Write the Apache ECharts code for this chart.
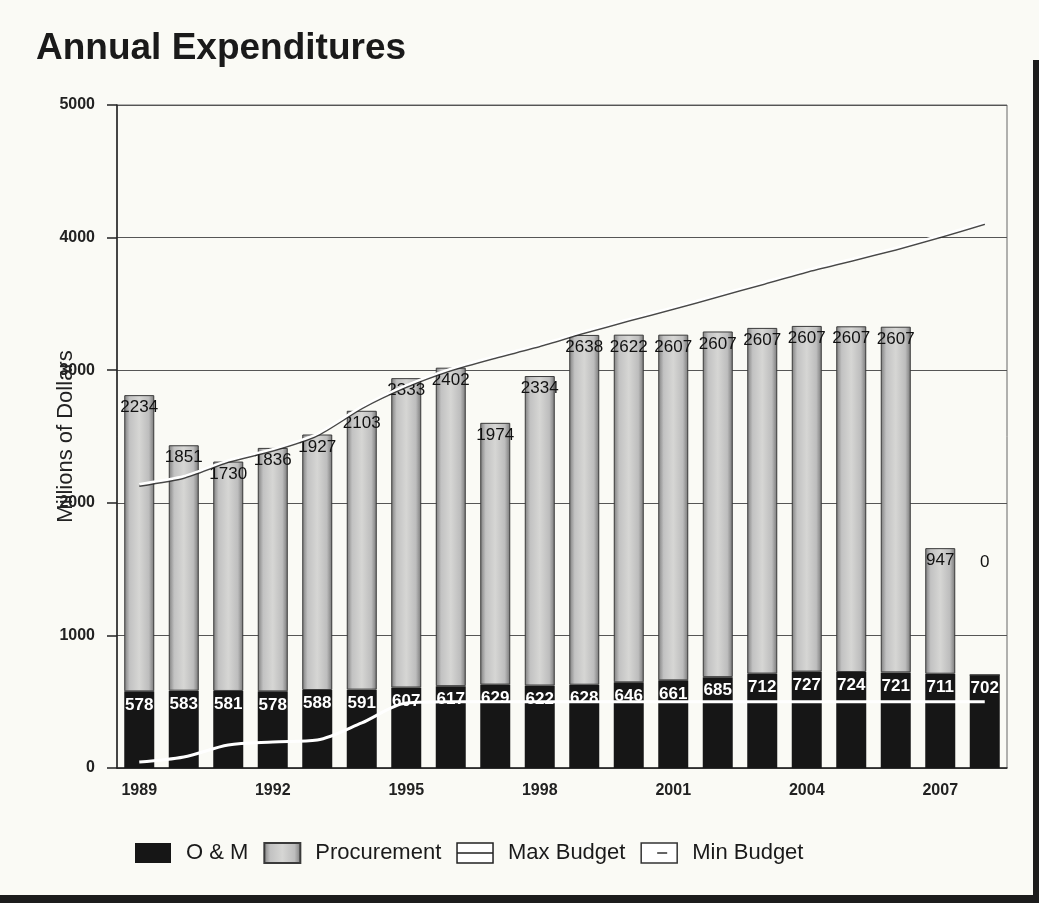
<!DOCTYPE html>
<html>
<head>
<meta charset="utf-8">
<script src="https://cdn.jsdelivr.net/npm/echarts@6/dist/echarts.min.js"></script>
<style>
html,body{margin:0;padding:0;background:#fafaf5;}
#wrap{position:relative;width:1039px;height:903px;overflow:hidden;}
#chart{position:absolute;left:0;top:0;width:1039px;height:903px;}
#rb{position:absolute;right:0;top:60px;width:6px;bottom:0;background:#1c1c1c;}
#bb{position:absolute;left:0;right:0;bottom:0;height:8px;background:#1c1c1c;}
</style>
</head>
<body>
<div id="wrap"><div id="chart"></div><div id="rb"></div><div id="bb"></div></div>
<script>
var years = ['1989','1990','1991','1992','1993','1994','1995','1996','1997','1998','1999','2000','2001','2002','2003','2004','2005','2006','2007','2008'];
var omValues = [578,583,581,578,588,591,607,617,629,622,628,646,661,685,712,727,724,721,711,702];
var procurementValues = [2234,1851,1730,1836,1927,2103,2333,2402,1974,2334,2638,2622,2607,2607,2607,2607,2607,2607,947,0];
var maxBudget = [2140,2200,2320,2405,2520,2725,2885,3010,3105,3193,3293,3385,3474,3567,3660,3754,3837,3922,4016,4115];
var minBudget = [45,83,173,196,211,340,490,500,500,500,500,500,500,500,500,500,500,500,500,500];
var yTicks = [0,1000,2000,3000,4000,5000];

var FONT = 'Liberation Sans, Arial, Helvetica, sans-serif';
var chart = echarts.init(document.getElementById('chart'), null, {renderer:'canvas'});

var procData = procurementValues.map(function(v){
  if (v === 0) {
    return {value: v, label: {position: 'top', offset: [0, -100]}};
  }
  return v;
});

var procFill = new echarts.graphic.LinearGradient(0,0,1,0,[
  {offset:0, color:'#7d7d7d'},
  {offset:0.18, color:'#c2c2c2'},
  {offset:0.5, color:'#d6d6d4'},
  {offset:0.82, color:'#bdbdbd'},
  {offset:1, color:'#777'}
]);

chart.setOption({
  backgroundColor: '#fafaf5',
  animation: false,
  textStyle: {fontFamily: FONT},
  title: {
    text: 'Annual Expenditures',
    left: 31, top: 25,
    textStyle: {fontSize: 37, fontWeight: 'bold', color: '#1a1a1a', fontFamily: FONT}
  },
  legend: {
    left: 130, top: 837,
    itemWidth: 36, itemHeight: 20, itemGap: 15,
    textStyle: {fontSize: 22, color: '#1a1a1a', padding: [0,0,0,10], fontFamily: FONT},
    data: [
      {name: 'O & M', icon: 'rect'},
      {name: 'Procurement', icon: 'rect'},
      {name: 'Max Budget', icon: 'path://M0 0H36V20H0ZM0 10H36', itemStyle: {color:'#fff', borderColor:'#222', borderWidth:1.5}},
      {name: 'Min Budget', icon: 'path://M0 0H36V20H0ZM16 10H26', itemStyle: {color:'#fff', borderColor:'#333', borderWidth:1.5}}
    ]
  },
  grid: {
    left: 117, right: 32, top: 105, bottom: 135,
    show: true, borderColor: '#666', borderWidth: 1, backgroundColor: 'transparent'
  },
  xAxis: {
    type: 'category',
    data: years,
    axisLine: {lineStyle: {color: '#222', width: 1.5}},
    axisTick: {show: false},
    axisLabel: {interval: 2, margin: 15, fontSize: 16, fontWeight: 'bold', color: '#222', fontFamily: FONT},
    splitLine: {show: false}
  },
  yAxis: {
    type: 'value',
    min: yTicks[0], max: yTicks[yTicks.length-1], interval: 1000,
    name: 'Millions of Dollars',
    nameLocation: 'middle', nameRotate: 90, nameGap: 40,
    nameMoveOverlap: false,
    nameTextStyle: {fontSize: 22, color: '#222', fontFamily: FONT},
    axisLine: {show: true, lineStyle: {color: '#222', width: 1.5}},
    axisTick: {show: true, length: 10, lineStyle: {color: '#222', width: 1.5}},
    axisLabel: {margin: 22, fontSize: 16, fontWeight: 'bold', color: '#222', fontFamily: FONT,
      formatter: function(v){ return String(v); }},
    splitLine: {show: true, lineStyle: {color: '#555', width: 1}}
  },
  series: [
    {
      name: 'O & M', type: 'bar', stack: 'total',
      data: omValues,
      barWidth: 30,
      itemStyle: {color: '#161616'},
      label: {show: true, position: 'insideTop', distance: 5, color: '#fff', fontSize: 17, fontWeight: 'bold', fontFamily: FONT}
    },
    {
      name: 'Procurement', type: 'bar', stack: 'total',
      data: procData,
      barWidth: 30,
      itemStyle: {color: procFill, borderColor: '#3a3a3a', borderWidth: 1},
      label: {show: true, position: 'insideTop', distance: 4, color: '#111', fontSize: 17, fontFamily: FONT}
    },
    {
      name: 'Max Budget', type: 'line',
      data: maxBudget,
      smooth: 0.2, symbol: 'none',
      itemStyle: {color: '#fff'},
      lineStyle: {color: '#fff', width: 2.5, shadowColor: 'rgba(40,40,40,0.85)', shadowBlur: 0, shadowOffsetY: 1.5}
    },
    {
      name: 'Min Budget', type: 'line',
      data: minBudget,
      smooth: 0.3, symbol: 'none',
      itemStyle: {color: '#fff'},
      lineStyle: {color: '#fff', width: 3}
    }
  ]
});
</script>
</body>
</html>
